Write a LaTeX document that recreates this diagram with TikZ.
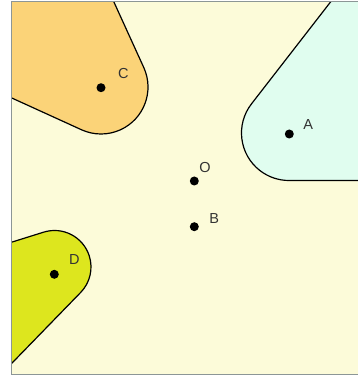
\documentclass[tikz,border=0pt]{standalone}
\usepackage{fontspec}
\setmainfont{Liberation Sans}
\usetikzlibrary{calc}
\definecolor{creambg}{RGB}{252,251,217}
\definecolor{regionorange}{RGB}{251,211,120}
\definecolor{regionmint}{RGB}{224,253,239}
\definecolor{regionlime}{RGB}{221,230,30}
\definecolor{framegray}{RGB}{140,150,150}

\begin{document}
\begin{tikzpicture}[
    x=1pt, y=1pt,
    region/.style={draw=black, line width=1.2pt, line join=round},
    dot/.style={circle, fill=black, inner sep=0pt, minimum size=9pt},
    label_text/.style={inner sep=0pt, font=\fontsize{14.5}{14.5}\selectfont, text=black!80}
]
\useasboundingbox (0,0) rectangle (358,376);

% Background
\fill[creambg] (11.5,1.5) rectangle (358,374.5);

% Regions round the points
\begin{scope}
\clip (11.5,1.5) rectangle (358,374.5);
\coordinate (apex_c) at (101,289);
\coordinate (apex_a) at (289,243);
\coordinate (apex_d) at (54.5,109);
\filldraw[region, fill=regionorange] ($(apex_c)+(24.5:47)+(114.5:300)$) -- ($(apex_c)+(24.5:47)$)
    arc[start angle=24.5, end angle=-114.5, radius=47pt] -- ++(155.5:300) -- (-300,700) -- cycle;
\filldraw[region, fill=regionmint] ($(apex_a)+(142.2:47.5)+(52.2:300)$) -- ($(apex_a)+(142.2:47.5)$)
    arc[start angle=142.2, end angle=270, radius=47.5pt] -- ++(0:300) -- (700,700) -- cycle;
\filldraw[region, fill=regionlime] ($(apex_d)+(107.4:36.5)+(197.4:300)$) -- ($(apex_d)+(107.4:36.5)$)
    arc[start angle=107.4, end angle=-44.2, radius=36.5pt] -- ++(225.8:300) -- (-300,-300) -- cycle;
\end{scope}

% Frame
\draw[framegray, line width=1.5pt] (358,374.5) -- (11.5,374.5) -- (11.5,1.5) -- (358,1.5);

% Points
\node[dot] (dot_a) at (289.3,242) {};
\node[dot] (dot_b) at (194.3,149.3) {};
\node[dot] (dot_c) at (101,288.3) {};
\node[dot] (dot_d) at (54.3,101.7) {};
\node[dot] (dot_o) at (194.3,195) {};

% Labels
\node[label_text] (label_a) at (308.3,251) {A};
\node[label_text] (label_b) at (214.3,157.7) {B};
\node[label_text] (label_c) at (123.3,302) {C};
\node[label_text] (label_d) at (74.3,116) {D};
\node[label_text] (label_o) at (205,208.7) {O};

\end{tikzpicture}
\end{document}
